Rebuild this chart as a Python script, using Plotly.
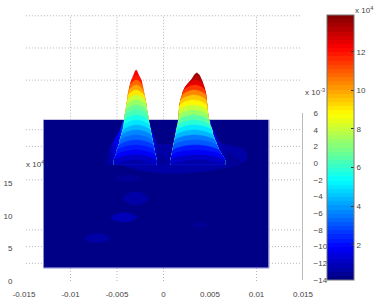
import plotly.graph_objects as go

# axes
x_ticks = [-0.015, -0.01, -0.005, 0, 0.005, 0.01, 0.015]
x_tick_labels = ["-0.015", "-0.01", "-0.005", "0", "0.005", "0.01", "0.015"]
x_solid_ticks = [-0.01, -0.005, 0, 0.01]
left_ticks = [0, 5, 10, 15]
left_solid_ticks = [5, 15]
right_ticks = [-14, -12, -10, -8, -6, -4, -2, 0, 2, 4, 6]
right_grid = [-12, -10, -8, -2, 2, 4]
right_grid_short = [0]
top_grid = [40.8, 35.85, 30.9]
cbar_ticks = [2, 4, 6, 8, 10, 12]
plane_x = [-0.0129, 0.01134]
plane_y = [2.0, 24.8]
plane_z = [[0.2]]

# projected outline of the two peaks, row by row
peak1_y = [32.46, 31.69, 30.92, 30.15, 29.38, 28.62, 27.85, 27.08, 26.31, 25.54,
           24.77, 24.0, 23.23, 22.46, 21.69, 20.92, 20.15, 19.38, 18.62]
peak1_left = [-.00294, -.00321, -.00342, -.00358, -.00369, -.0038, -.00385, -.00396, -.00401, -.00412,
              -.00417, -.00444, -.00465, -.00497, -.00529, -.00561, -.00583, -.00604, -.00626]
peak1_right = [-.00294, -.00267, -.00241, -.0023, -.00219, -.00209, -.00198, -.00187, -.00182, -.00171,
               -.00166, -.0015, -.00134, -.00112, -.00091, -.00075, -.00059, -.00027, .00016]
peak1_core_left = [-.00294, -.00321, -.00342, -.00358, -.00369, -.0038, -.00385, -.00396, -.00401, -.00412,
                   -.00417, -.00422, -.00433, -.00449, -.00465, -.00476, -.00497, -.00508, -.00529]
peak1_core_right = [-.00294, -.00267, -.00241, -.0023, -.00219, -.00209, -.00198, -.00187, -.00182, -.00171,
                    -.00166, -.00155, -.00144, -.00134, -.00123, -.00112, -.00102, -.00091, -.0008]
peak1_val = [12.3, 11.8, 10.8, 10, 9, 8, 7.4, 6.8, 6.2, 5.6, 5, 4.4, 3.8, 3.2, 2.7, 2.2, 1.7, 1.2, .8]

peak2_y = [32.0, 31.69, 30.92, 30.15, 29.38, 28.62, 27.85, 27.08, 26.31, 25.54,
           24.77, 24.0, 23.23, 22.46, 21.69, 20.92, 20.15, 19.38, 18.62]
peak2_left = [.00358, .00332, .00299, .00251, .00219, .00203, .00187, .00176, .00171, .00168,
              .00166, .0015, .00134, .00123, .00112, .00096, .0008, .00064, .00048]
peak2_right = [.00358, .00385, .00409, .00428, .00444, .00455, .0046, .00465, .00471, .00476,
               .00487, .00508, .00529, .00556, .00583, .00626, .00668, .00733, .00818]
peak2_core_left = [.00358, .00332, .00299, .00251, .00219, .00203, .00187, .00176, .00171, .00168,
                   .00166, .00155, .00144, .00134, .00123, .00112, .00102, .00091, .0008]
peak2_core_right = [.00358, .00385, .00409, .00428, .00444, .00455, .0046, .00465, .00471, .00476,
                    .00487, .00497, .00519, .00529, .00551, .00572, .00594, .00626, .00658]
peak2_val = [13.8, 13.2, 12.5, 11.5, 10.3, 9.5, 8.8, 8, 7.3, 6.6, 5.9, 5, 4.3, 3.6, 3, 2.3, 1.7, 1.2, .8]

# darker flanks of the peaks, from the widest row inwards
skirt_rows = [18, 17, 16, 15, 14, 13, 12, 11]
skirt_val = [.45, .6, .8, 1.0, 1.3, 1.7, 2.2, 2.9]

# low bumps lying on the plane: centre x, centre y, half width, half height, value
bump_x = [-.00710, -.00425, -.00300, -.00385, .00385]
bump_y = [6.6, 9.8, 12.7, 15.8, 8.6]
bump_w = [.00135, .00140, .00135, .00145, .00090]
bump_h = [.70, .70, 1.00, .45, .40]
bump_val = [.75, .85, .75, .55, .45]
halo_x = [-.0058, -.0030, 0.0, .0030, .0065, .0088]
halo_y = [18.6, 17.2, 16.6, 16.7, 17.4, 18.6]
halo_top = [20, 21, 21, 21, 21, 20]
halo_val = 0.62

ZMIN, ZMAX = 0.18, 13.9
L, R, T, B = 23.5, 303.5, 15, 281
W, H = 375, 303


def px(v):
    return (v - L) / (R - L)


def py(v):
    return (B - v) / (B - T)


def jet(t):
    def ch(v):
        return int(round(255 * max(0.0, min(1.0, v))))
    return f"rgb({ch(1.5 - abs(4 * t - 3))},{ch(1.5 - abs(4 * t - 2))},{ch(1.5 - abs(4 * t - 1))})"


def jet_val(v):
    n = 64
    i = max(0, min(n - 1, int((v - ZMIN) / (ZMAX - ZMIN) * n)))
    return jet((i + 0.5) / n)


stepped = []
for i in range(64):
    c = jet((i + 0.5) / 64)
    stepped += [[i / 64, c], [(i + 1) / 64, c]]

GREY = "#b4b4b4"
TXT = "#444444"
DOT = "1px,2px"
fig = go.Figure()


def line(xs, ys, color=GREY, dash=DOT, width=1, yaxis="y"):
    fig.add_trace(go.Scatter(x=xs, y=ys, mode="lines", yaxis=yaxis, hoverinfo="skip", showlegend=False,
                             cliponaxis=False, line=dict(color=color, dash=dash, width=width)))


# grid around the plane
for v in top_grid:
    line([-0.0148, 0.0147], [v, v])
for v in [-0.01, -0.005, 0, 0.01]:
    line([v, v], [24.8, 40.8])
    line([v, v], [0, 2])
for v in right_grid:
    line([-0.0148, plane_x[0]], [v, v], yaxis="y2")
    line([plane_x[1], 0.0148], [v, v], yaxis="y2")
for v in right_grid_short:
    line([plane_x[1], 0.0148], [v, v], yaxis="y2")

# plane (also carries the colour bar)
fig.add_trace(go.Heatmap(
    x=plane_x, y=plane_y, z=plane_z, zmin=ZMIN, zmax=ZMAX, colorscale=stepped, hoverinfo="skip",
    colorbar=dict(x=px(328), xanchor="left", xpad=0, y=py(280), yanchor="bottom", ypad=0,
                  len=265 / (B - T), lenmode="fraction", thickness=27, thicknessmode="pixels",
                  tickmode="array", tickvals=cbar_ticks, ticks="inside", ticklen=3, tickcolor="#333333",
                  tickfont=dict(family="Liberation Sans", size=8, color=TXT),
                  outlinecolor="#777777", outlinewidth=1, borderwidth=0),
))
line([plane_x[0], plane_x[0], plane_x[1], plane_x[1]], [plane_y[1], plane_y[0], plane_y[0], plane_y[1]],
     color="#8a8ad8", dash="solid")


def blob(xs, ys, val):
    fig.add_trace(go.Scatter(x=xs, y=ys, mode="lines", fill="toself", fillcolor=jet_val(val),
                             line=dict(color=jet_val(val), width=0.5, shape="spline", smoothing=1),
                             hoverinfo="skip", showlegend=False))


blob(halo_x + halo_x[::-1], halo_y + halo_top[::-1], halo_val)

for cx, cy, w, h, val in zip(bump_x, bump_y, bump_w, bump_h, bump_val):
    blob([cx - w, cx - w * .5, cx, cx + w * .5, cx + w, cx + w * .5, cx, cx - w * .5, cx - w],
         [cy, cy + h * .8, cy + h, cy + h * .8, cy, cy - h * .8, cy - h, cy - h * .8, cy], val)


def peak(ys, lefts, rights, core_l, core_r, vals):
    base = ys[-1] - 0.7
    top = skirt_rows[-1] - 1
    # flanks first: each one follows the outline down to its own row
    for j, val in zip(skirt_rows, skirt_val):
        xs = [lefts[j]] + lefts[j:top - 1:-1] + rights[top:j + 1] + [rights[j]]
        yy = [base] + ys[j:top - 1:-1] + ys[top:j + 1] + [base]
        blob(xs, yy, val)
    # then the nested arcs of the core, painted from the top down
    for k in range(len(ys)):
        mid = (core_l[k] + core_r[k]) / 2
        xs = [core_l[-1]] + core_l[-1:k:-1] + [mid] + core_r[k + 1:] + [core_r[-1]]
        yy = [base] + ys[-1:k:-1] + [ys[k]] + ys[k + 1:] + [base]
        blob(xs, yy, vals[k])


peak(peak1_y, peak1_left, peak1_right, peak1_core_left, peak1_core_right, peak1_val)
peak(peak2_y, peak2_left, peak2_right, peak2_core_left, peak2_core_right, peak2_val)

# tick dashes that are actually drawn, and the right axis line
for v in x_solid_ticks:
    line([v, v], [0, -1.1], color="#666666", dash="solid")
for v in left_solid_ticks:
    line([-0.0158, -0.015], [v, v], color="#666666", dash="solid")
for v in right_grid + right_grid_short:
    line([0.015, 0.0155], [v, v], color="#666666", dash="solid", yaxis="y2")
line([0.015, 0.015], [-14, 6], color="#777777", dash="solid", yaxis="y2")

tick_font = dict(family="Liberation Sans", size=8, color=TXT)
clear = "rgba(0,0,0,0)"
fig.update_layout(
    width=W, height=H, autosize=False,
    margin=dict(l=L, r=W - R, t=T, b=H - B, pad=0, autoexpand=False),
    paper_bgcolor="white", plot_bgcolor="white", showlegend=False,
    xaxis=dict(range=[-0.015, 0.015], tickmode="array", tickvals=x_ticks,
               ticktext=x_tick_labels, ticks="outside", ticklen=5, tickcolor=clear, showgrid=False,
               zeroline=False, showline=False, tickfont=tick_font),
    yaxis=dict(range=[0, 40.92], tickmode="array", tickvals=left_ticks,
               ticks="outside", ticklen=9, tickcolor=clear, showgrid=False, zeroline=False, showline=False,
               tickfont=tick_font),
    yaxis2=dict(range=[-14.12, 17.74], anchor="x", side="right", overlaying="y",
                tickmode="array", tickvals=right_ticks, ticks="outside", ticklen=8, tickcolor=clear,
                showgrid=False, zeroline=False, showline=False, tickfont=tick_font),
    annotations=[
        dict(text="x 10<sup>4</sup>", xref="paper", yref="paper", x=px(354), y=py(10),
             xanchor="left", yanchor="middle", showarrow=False, font=tick_font),
        dict(text="x 10<sup>4</sup>", xref="paper", yref="paper", x=px(24), y=py(164),
             xanchor="left", yanchor="middle", showarrow=False, font=tick_font),
        dict(text="x 10<sup>-3</sup>", xref="paper", yref="paper", x=px(303), y=py(92),
             xanchor="left", yanchor="middle", showarrow=False, font=tick_font),
    ],
)
fig.write_html("out.html", config=dict(displayModeBar=False),
               post_script="document.body.style.margin='0';document.body.style.overflow='hidden';")
